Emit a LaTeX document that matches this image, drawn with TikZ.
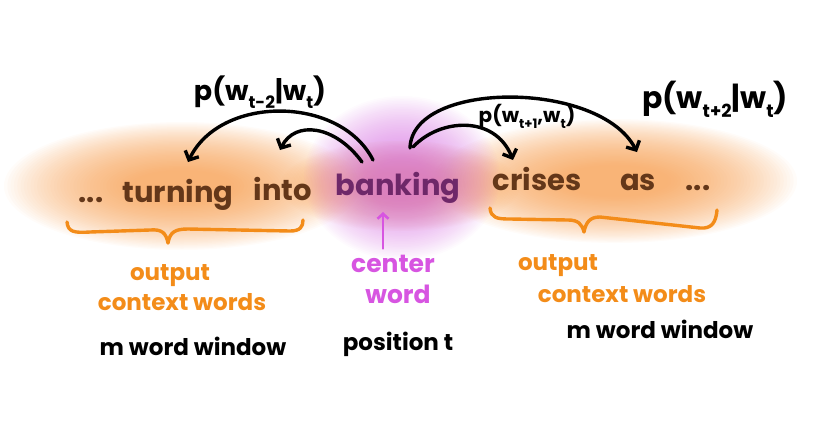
\documentclass[tikz,border=0pt]{standalone}
\usepackage{fontspec}
\setmainfont{Poppins}
\usetikzlibrary{arrows.meta,calc}
\definecolor{ctxbrown}{RGB}{100,55,25}
\definecolor{cenpurple}{RGB}{110,40,105}
\definecolor{lblorange}{RGB}{243,140,25}
\definecolor{lblmag}{RGB}{215,85,225}
\definecolor{glowor}{RGB}{246,150,65}
\definecolor{glowpk}{RGB}{212,105,224}
\newcommand{\fsz}[1]{\fontsize{#1}{#1}\selectfont}
\newcommand{\lsub}[2]{\raisebox{-0.3em}{\fsz{#1}#2}}
\begin{document}
\begin{tikzpicture}[x=1pt,y=-1pt,
  every node/.style={inner sep=0pt},
  ctx/.style={text=ctxbrown,font=\fsz{29}\bfseries},
  cen/.style={text=cenpurple,font=\fsz{29}\bfseries},
  olbl/.style={text=lblorange,font=\fsz{23}\bfseries},
  mlbl/.style={text=lblmag,font=\fsz{25}\bfseries},
  blbl/.style={text=black,font=\fsz{23}\bfseries},
  arr/.style={line width=3.4pt,line cap=round,-{Straight Barb[length=7pt,width=15pt]}},
  magarr/.style={draw=lblmag,line width=2.6pt,line cap=round,-{Straight Barb[length=5pt,width=11pt]}},
  bracestyle/.style={draw=lblorange,line width=3.4pt,line cap=round,line join=round}]
\useasboundingbox (0,0) rectangle (838,424);
% glows
\foreach \k in {0,...,39} {
  \fill[glowor,opacity=0.032] (182,186) ellipse ({178-3.3*\k} and {64-1.25*\k});
  \fill[glowor,opacity=0.032] (615,181) ellipse ({182-3.3*\k} and {62-1.2*\k});
  \fill[glowor,opacity=0.02] (400,186) ellipse ({120-2*\k} and {45-0.8*\k});
}
\foreach \k in {0,...,39} {
  \fill[glowpk,opacity=0.028] (402,178) ellipse ({98-1.9*\k} and {82-1.6*\k});
}
% sentence
\node[ctx,anchor=base] (ldots) at (91,202) {...};
\node[ctx,anchor=base] (turning) at (178,202) {turning};
\node[ctx,anchor=base] (into) at (283,200) {into};
\node[cen,anchor=base] (banking) at (398,195) {banking};
\node[ctx,anchor=base] (crises) at (537,190) {crises};
\node[ctx,anchor=base] (as) at (638,190) {as};
\node[ctx,anchor=base] (rdots) at (698,190) {...};
% probability labels
\node[blbl,font=\fsz{27}\bfseries,anchor=base] (pl) at (260,100) {p(w\lsub{17}{t-2}|w\lsub{17}{t})};
\node[blbl,font=\fsz{30}\bfseries,anchor=base] (pr) at (715,108) {p(w\lsub{18}{t+2}|w\lsub{18}{t})};
\node[blbl,font=\fsz{20}\bfseries,anchor=base] (pm) at (527,122) {p(w\lsub{13}{t+1},w\lsub{13}{t})};
% arrow coordinates
\coordinate (s1) at ($(banking.base)+(-25,-35)$);
\coordinate (s2) at ($(banking.base)+(-36,-33)$);
\coordinate (s3) at ($(banking.base)+(12,-47)$);
\coordinate (s4) at ($(banking.base)+(15,-48)$);
\coordinate (t1) at ($(turning.base)+(10,-40)$);
\coordinate (t2) at ($(into.base)+(-3,-50)$);
\coordinate (t3) at ($(crises.base)+(-24,-30)$);
\coordinate (t4) at ($(as.base)+(-1,-38)$);
\draw[arr] (s1) .. controls (340,95) and (220,95) .. (t1);
\draw[arr] (s2) .. controls (335,125) and (295,120) .. (t2);
\draw[arr] (s3) .. controls (412,80) and (600,80) .. (t4);
\draw[arr] (s4) .. controls (440,118) and (495,115) .. (t3);
% braces
\draw[bracestyle] (67,222) .. controls (68,232) and (74,233) .. (90,232) -- (150,230) .. controls (162,229) and (166,233) .. (168,243) .. controls (170,232) and (175,229) .. (188,229) -- (290,231) .. controls (300,231) and (303,227) .. (303,220);
\draw[bracestyle] (490,208) .. controls (491,218) and (497,219) .. (510,219) -- (568,220) .. controls (578,220) and (582,224) .. (584,232) .. controls (586,222) and (590,217) .. (600,217) -- (700,228) .. controls (712,229) and (716,222) .. (717,210);
% lower labels
\node[olbl,anchor=base] (out1) at (170,280) {output};
\node[olbl,anchor=base] (ctx1) at (182,310) {context words};
\node[blbl,anchor=base] (win1) at (193,355) {m word window};
\node[mlbl,anchor=base] (centerlbl) at (393,272) {center};
\node[mlbl,anchor=base] (wordlbl) at (398,303) {word};
\node[blbl,anchor=base] (pos) at (398,350) {position t};
\node[olbl,anchor=base] (out2) at (558,270) {output};
\node[olbl,anchor=base] (ctx2) at (622,302) {context words};
\node[blbl,anchor=base] (win2) at (660,338) {m word window};
\coordinate (msrc) at ($(centerlbl.north)+(-10,-6)$);
\coordinate (mtip) at ($(banking.base)+(-15,17)$);
\draw[magarr] (msrc) -- (mtip);
\end{tikzpicture}
\end{document}
